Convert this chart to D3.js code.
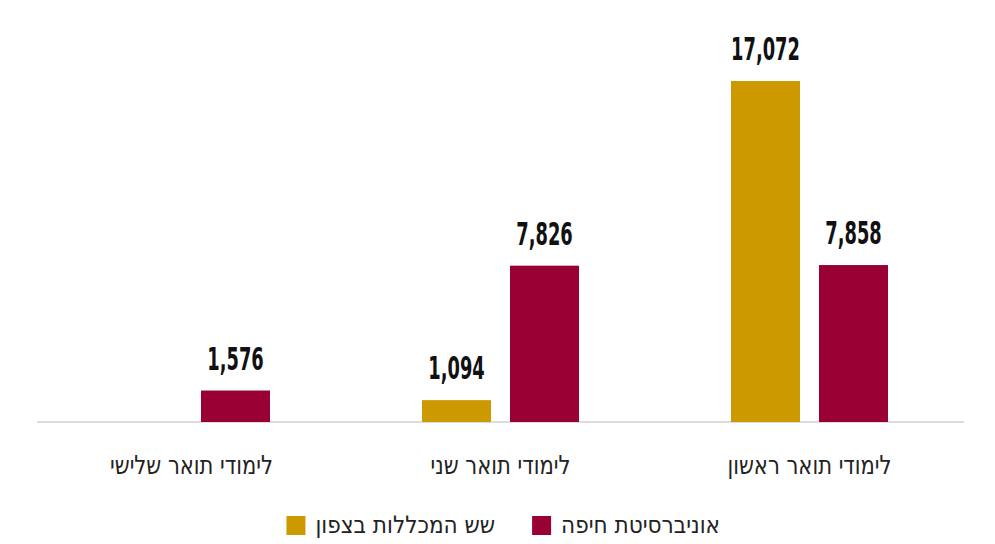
<!DOCTYPE html>
<html lang="he">
<head>
<meta charset="utf-8">
<script src="https://cdnjs.cloudflare.com/ajax/libs/d3/7.8.5/d3.min.js"></script>
<style>
    body { margin: 0; background: #fff; }
    #chart { width: 995px; height: 544px; }
    .value { font-family: "DejaVu Sans Condensed", "DejaVu Sans", sans-serif; font-stretch: condensed; font-weight: bold; font-size: 32px; fill: #111; }
    .cat { font-family: "DejaVu Sans Condensed", "DejaVu Sans", sans-serif; font-stretch: condensed; font-size: 26px; fill: #222; }
    .legend { font-family: "DejaVu Sans Condensed", "DejaVu Sans", sans-serif; font-stretch: condensed; font-size: 24px; fill: #222; }
</style>
</head>
<body>
<div id="chart"></div>
<script>
// categories, left to right as drawn (hebrew chart reads right to left)
var categories = ["לימודי תואר שלישי", "לימודי תואר שני", "לימודי תואר ראשון"];
var seriesNames = ["שש המכללות בצפון", "אוניברסיטת חיפה"];
var seriesColors = ["#cc9900", "#990033"];
var colleges = [null, 1094, 17072];
var haifa = [1576, 7826, 7858];

var width = document.querySelector("#chart").clientWidth;
var height = document.querySelector("#chart").clientHeight;

var svg = d3.select("#chart")
    .append("svg")
    .attr("width", width)
    .attr("height", height);

var baseline = 422;

var x0 = d3.scaleBand()
    .domain(categories)
    .range([37, 964]);

var x1 = d3.scaleBand()
    .domain(seriesNames)
    .range([76, 233])
    .paddingInner(0.216);

var y = d3.scaleLinear()
    .domain([0, 17072])
    .range([baseline, 81]);

var color = d3.scaleOrdinal()
    .domain(seriesNames)
    .range(seriesColors);

var rows = [];
categories.forEach(function(c, i) {
    if (colleges[i] != null) rows.push({cat: c, series: seriesNames[0], value: colleges[i]});
    if (haifa[i] != null) rows.push({cat: c, series: seriesNames[1], value: haifa[i]});
});

// baseline
svg.append("line")
    .attr("x1", x0.range()[0])
    .attr("x2", x0.range()[1])
    .attr("y1", baseline)
    .attr("y2", baseline)
    .attr("stroke", "#dcdcdc")
    .attr("stroke-width", 2);

svg.selectAll("rect.bar")
    .data(rows)
    .enter()
    .append("rect")
        .attr("class", "bar")
        .attr("x", function(d) { return x0(d.cat) + x1(d.series); })
        .attr("y", function(d) { return y(d.value); })
        .attr("width", x1.bandwidth())
        .attr("height", function(d) { return baseline - y(d.value); })
        .attr("fill", function(d) { return color(d.series); });

// value labels are squeezed sideways to mimic the heavy condensed face
svg.selectAll("g.value")
    .data(rows)
    .enter()
    .append("g")
        .attr("transform", function(d) {
            var cx = x0(d.cat) + x1(d.series) + x1.bandwidth() / 2;
            return "translate(" + cx + "," + (y(d.value) - 21) + ") scale(0.62,1)";
        })
    .append("text")
        .attr("class", "value")
        .attr("text-anchor", "middle")
        .text(function(d) { return d3.format(",")(d.value); });

svg.selectAll("g.cat")
    .data(categories)
    .enter()
    .append("g")
        .attr("transform", function(d) {
            return "translate(" + (x0(d) + x0.bandwidth() / 2) + ",474) scale(0.9,1)";
        })
    .append("text")
        .attr("class", "cat")
        .attr("text-anchor", "middle")
        .text(function(d) { return d; });

// legend, laid out from the right
var legendOrder = [1, 0];
var right = 720;
legendOrder.forEach(function(i) {
    var t = svg.append("text")
        .attr("class", "legend")
        .attr("text-anchor", "end")
        .attr("x", right)
        .attr("y", 533)
        .text(seriesNames[i]);
    var w = t.node().getComputedTextLength();
    svg.append("rect")
        .attr("x", right - w - 10 - 19)
        .attr("y", 516)
        .attr("width", 19)
        .attr("height", 19)
        .attr("fill", seriesColors[i]);
    right = right - w - 10 - 19 - 37;
});
</script>
</body>
</html>
